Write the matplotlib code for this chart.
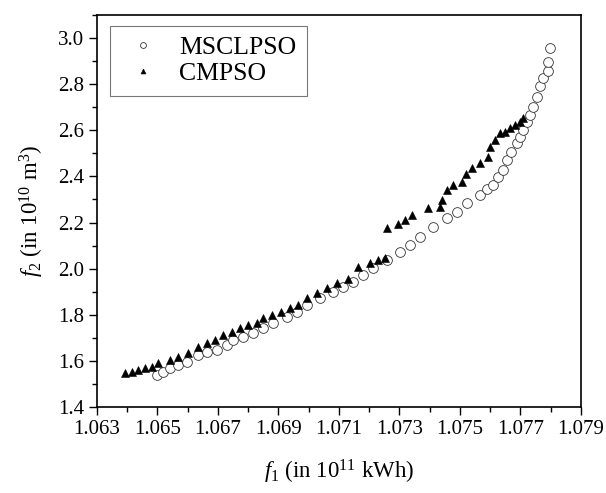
import matplotlib
matplotlib.use("Agg")
import matplotlib.pyplot as plt
from matplotlib.ticker import FixedLocator, FormatStrFormatter

plt.rcParams['font.family'] = ['Liberation Serif', 'DejaVu Serif']
plt.rcParams['mathtext.fontset'] = 'custom'
plt.rcParams['mathtext.rm'] = 'Liberation Serif'
plt.rcParams['mathtext.it'] = 'Liberation Serif:italic'

x_major_ticks = [1.063, 1.065, 1.067, 1.069, 1.071, 1.073, 1.075, 1.077, 1.079]
x_minor_ticks = [1.064, 1.066, 1.068, 1.070, 1.072, 1.074, 1.076, 1.078]
y_major_ticks = [1.4, 1.6, 1.8, 2.0, 2.2, 2.4, 2.6, 2.8, 3.0]
y_minor_ticks = [1.5, 1.7, 1.9, 2.1, 2.3, 2.5, 2.7, 2.9, 3.1]

msclpso_f1 = [1.06497, 1.06519, 1.06541, 1.06569, 1.06597, 1.06635, 1.06663, 1.06696,
              1.06729, 1.06750, 1.06784, 1.06817, 1.06850, 1.06883, 1.06927, 1.06960,
              1.06993, 1.07037, 1.07081, 1.07114, 1.07147, 1.07180, 1.07213, 1.07258,
              1.07302, 1.07335, 1.07368, 1.07412, 1.07456, 1.07490, 1.07522, 1.07566,
              1.07588, 1.07610, 1.07627, 1.07643, 1.07654, 1.07670, 1.07687, 1.07698,
              1.07709, 1.07720, 1.07731, 1.07742, 1.07754, 1.07764, 1.07775, 1.07792,
              1.07792, 1.07798]
msclpso_f2 = [1.539, 1.553, 1.568, 1.582, 1.597, 1.626, 1.640, 1.647,
              1.669, 1.691, 1.705, 1.720, 1.741, 1.763, 1.792, 1.813,
              1.843, 1.872, 1.900, 1.922, 1.944, 1.973, 2.002, 2.038,
              2.074, 2.103, 2.139, 2.182, 2.219, 2.247, 2.284, 2.320,
              2.345, 2.363, 2.399, 2.428, 2.472, 2.508, 2.544, 2.573,
              2.600, 2.638, 2.667, 2.703, 2.746, 2.790, 2.826, 2.855,
              2.898, 2.956]

cmpso_f1 = [1.06393, 1.06415, 1.06437, 1.06459, 1.06481, 1.06503, 1.06541, 1.06569,
            1.06602, 1.06635, 1.06663, 1.06690, 1.06718, 1.06745, 1.06773, 1.06800,
            1.06828, 1.06850, 1.06878, 1.06910, 1.06938, 1.06965, 1.06993, 1.07026,
            1.07059, 1.07092, 1.07130, 1.07164, 1.07202, 1.07230, 1.07252,
            1.07258, 1.07296, 1.07318, 1.07340, 1.07395, 1.07434, 1.07440, 1.07456,
            1.07478, 1.07506, 1.07520, 1.07539, 1.07566, 1.07594, 1.07600, 1.07616,
            1.07632, 1.07649, 1.07665, 1.07682, 1.07698, 1.07709]
cmpso_f2 = [1.546, 1.553, 1.560, 1.568, 1.575, 1.590, 1.604, 1.618,
            1.633, 1.662, 1.676, 1.691, 1.712, 1.727, 1.741, 1.756,
            1.763, 1.785, 1.799, 1.813, 1.828, 1.843, 1.872, 1.893,
            1.915, 1.937, 1.954, 2.006, 2.023, 2.038, 2.045,
            2.175, 2.193, 2.211, 2.233, 2.262, 2.269, 2.298, 2.340,
            2.363, 2.377, 2.410, 2.435, 2.457, 2.486, 2.529, 2.558,
            2.587, 2.594, 2.609, 2.623, 2.638, 2.652]

fig = plt.figure(figsize=(6.06, 4.93), dpi=100)
ax = fig.add_axes([0.160, 0.1744, 0.7987, 0.7952])

ax.plot(msclpso_f1, msclpso_f2, linestyle='none', marker='o', markersize=7,
        markerfacecolor='white', markeredgecolor='#333333', markeredgewidth=0.6,
        label='MSCLPSO')
ax.plot(cmpso_f1, cmpso_f2, linestyle='none', marker='^', markersize=6,
        markerfacecolor='black', markeredgecolor='black', markeredgewidth=0.4,
        label='CMPSO')

ax.set_xlim(1.063, 1.079)
ax.set_ylim(1.4, 3.1)
ax.xaxis.set_major_locator(FixedLocator(x_major_ticks))
ax.xaxis.set_minor_locator(FixedLocator(x_minor_ticks))
ax.yaxis.set_major_locator(FixedLocator(y_major_ticks))
ax.yaxis.set_minor_locator(FixedLocator(y_minor_ticks))
ax.xaxis.set_major_formatter(FormatStrFormatter('%.3f'))
ax.yaxis.set_major_formatter(FormatStrFormatter('%.1f'))
ax.tick_params(which='major', direction='out', length=6, width=1.0, labelsize=15, pad=3)
ax.tick_params(which='minor', direction='out', length=3.5, width=1.0)
ax.tick_params(top=False, right=False, which='both')
for s in ax.spines.values():
    s.set_linewidth(1.2)

ax.set_xlabel(r'$\mathit{f}_1$ (in 10$^{11}$ kWh)', fontsize=16.5, labelpad=14)
ax.set_ylabel(r'$\mathit{f}_2$ (in 10$^{10}$ m$^3$)', fontsize=16.5, labelpad=9)

leg = ax.legend(loc='upper left', bbox_to_anchor=(0.027, 0.972), fontsize=18.5,
                frameon=True, fancybox=False, edgecolor='#555555', markerscale=0.6,
                handlelength=1.8, handletextpad=0.5, borderpad=0.4, labelspacing=0.12,
                borderaxespad=0)
leg.get_frame().set_linewidth(0.8)

fig.savefig('out.png', dpi=100)
